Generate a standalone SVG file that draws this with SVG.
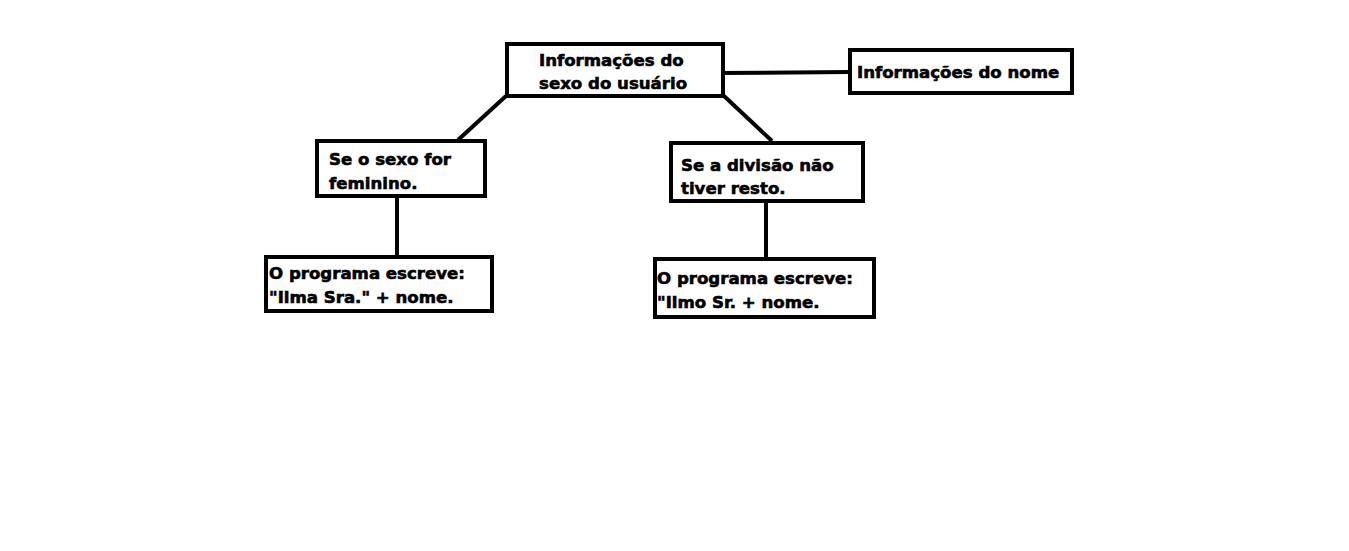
<svg xmlns="http://www.w3.org/2000/svg" width="1349" height="551" viewBox="0 0 1349 551">
<style>
.box{fill:#fff;stroke:#000;stroke-width:4}
.conn line{stroke:#000;stroke-width:4;stroke-linecap:butt}
text{font-family:"DejaVu Sans",sans-serif;font-weight:bold;font-size:16.6px;fill:#000;stroke:#000;stroke-width:0.6}
</style>
<rect width="1349" height="551" fill="#fff"/>
<g class="conn">
<line x1="720" y1="73" x2="850" y2="72"/>
<line x1="506" y1="96" x2="458" y2="140"/>
<line x1="724" y1="96" x2="772" y2="141"/>
<line x1="397" y1="196" x2="397" y2="256"/>
<line x1="766" y1="202" x2="766" y2="258"/>
</g>
<g id="n-sexo">
<rect class="box" x="507" y="44" width="216" height="52"/>
<text x="539" y="66">Informações do</text>
<text x="539" y="89">sexo do usuário</text>
</g>
<g id="n-nome">
<rect class="box" x="850" y="50" width="222" height="43"/>
<text x="857" y="78">Informações do nome</text>
</g>
<g id="n-feminino">
<rect class="box" x="317" y="141" width="168" height="55"/>
<text x="329" y="165">Se o sexo for</text>
<text x="329" y="189">feminino.</text>
</g>
<g id="n-divisao">
<rect class="box" x="671" y="143" width="192" height="58"/>
<text x="681" y="171">Se a divisão não</text>
<text x="681" y="194">tiver resto.</text>
</g>
<g id="n-ilma">
<rect class="box" x="266" y="257" width="226" height="54"/>
<text x="269" y="279">O programa escreve:</text>
<text x="269" y="303">"Ilma Sra." + nome.</text>
</g>
<g id="n-ilmo">
<rect class="box" x="655" y="259" width="219" height="58"/>
<text x="657" y="284">O programa escreve:</text>
<text x="657" y="308">"Ilmo Sr. + nome.</text>
</g>
</svg>
